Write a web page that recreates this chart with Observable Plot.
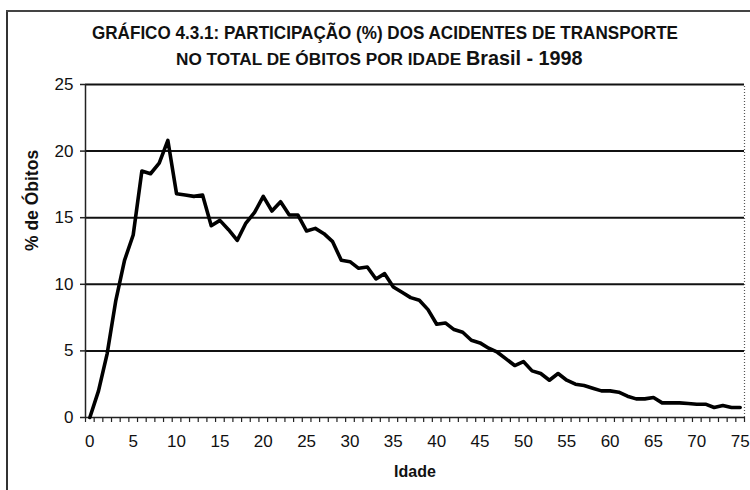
<!DOCTYPE html>
<html>
<head>
<meta charset="utf-8">
<script src="https://cdn.jsdelivr.net/npm/d3@7"></script>
<script src="https://cdn.jsdelivr.net/npm/@observablehq/plot@0.6"></script>
<style>
  html, body { margin: 0; padding: 0; background: #fff; }
  #wrap { position: relative; width: 750px; height: 490px; overflow: hidden; }
  #frameL { position: absolute; left: 6px; top: 10px; width: 1.5px; height: 480px; background: #333; }
  #frameT { position: absolute; left: 6px; top: 10px; width: 744px; height: 1.5px; background: #444; }
  #title { position: absolute; left: 0; top: 0; width: 750px; height: 70px; }
  #chart { position: absolute; left: 0; top: 70px; }
</style>
</head>
<body>
<div id="wrap">
  <div id="frameL"></div>
  <div id="frameT"></div>
  <svg id="title" width="750" height="70" font-family="'Liberation Sans', Arial, sans-serif">
    <text x="92" y="39" font-size="18.5" font-weight="bold" fill="#111" textLength="586" lengthAdjust="spacingAndGlyphs">GRÁFICO 4.3.1: PARTICIPAÇÃO (%) DOS ACIDENTES DE TRANSPORTE</text>
    <text x="176" y="65" font-weight="bold" fill="#111"><tspan font-size="17.2">NO TOTAL DE ÓBITOS POR IDADE </tspan><tspan font-size="19.8">Brasil - 1998</tspan></text>
  </svg>
  <div id="chart"></div>
</div>
<script>
// Idade (anos)
const ages = [0,1,2,3,4,5,6,7,8,9,10,11,12,13,14,15,16,17,18,19,20,21,22,23,24,25,26,27,28,29,30,31,32,33,34,35,36,37,38,39,40,41,42,43,44,45,46,47,48,49,50,51,52,53,54,55,56,57,58,59,60,61,62,63,64,65,66,67,68,69,70,71,72,73,74,75];
// % de óbitos por acidentes de transporte
const pct = [0,2.0,4.8,8.8,11.8,13.7,18.5,18.3,19.1,20.8,
             16.8,16.7,16.6,16.7,14.4,14.8,14.1,13.3,14.6,15.4,
             16.6,15.5,16.2,15.2,15.2,14.0,14.2,13.8,13.2,11.8,
             11.7,11.2,11.3,10.4,10.8,9.8,9.4,9.0,8.8,8.1,
             7.0,7.1,6.6,6.4,5.8,5.6,5.2,4.9,4.4,3.9,
             4.2,3.5,3.3,2.8,3.3,2.8,2.5,2.4,2.2,2.0,
             2.0,1.9,1.6,1.4,1.4,1.5,1.1,1.1,1.1,1.05,
             1.0,1.0,0.75,0.9,0.75,0.75];
const yTicks = [0,5,10,15,20,25];
const xTickLabels = [0,5,10,15,20,25,30,35,40,45,50,55,60,65,70,75];
const gridLines = [5,10,15,20,25];
const xLabel = "Idade";
const yLabel = "% de Óbitos";

const data = ages.map((a, i) => ({age: a, pct: pct[i]}));
const boundaries = ages.map(a => a - 0.5).concat([ages[ages.length - 1] + 0.5]);
const xDomain = [ages[0] - 0.5, ages[ages.length - 1] + 0.5];

const chart = Plot.plot({
  width: 750,
  height: 420,
  marginLeft: 85,
  marginRight: 6,
  marginTop: 14,
  marginBottom: 73,
  style: {fontFamily: "'Liberation Sans', Arial, sans-serif", fontSize: "17px", color: "#111", background: "transparent"},
  x: {domain: xDomain},
  y: {domain: [0, 25]},
  marks: [
    Plot.ruleY(gridLines, {stroke: "#111", strokeWidth: 2}),
    Plot.ruleX([xDomain[1]], {y1: 0, y2: 25, stroke: "#555", strokeWidth: 1.2, strokeDasharray: "1,2"}),
    Plot.ruleX([xDomain[0]], {y1: 0, y2: 25, stroke: "#222", strokeWidth: 1.5}),
    Plot.ruleY([0], {stroke: "#222", strokeWidth: 1.5}),
    Plot.axisY({ticks: yTicks, tickSize: 5, tickPadding: 7, label: null, stroke: "#222", strokeWidth: 1.5, fill: "#111", fontSize: 17}),
    Plot.axisX({ticks: boundaries, tickSize: 5, tickFormat: () => "", label: null, stroke: "#222", strokeWidth: 1.2}),
    Plot.axisX({ticks: xTickLabels, tickSize: 0, tickPadding: 17, label: null, fill: "#111", fontSize: 17}),
    Plot.line(data, {x: "age", y: "pct", stroke: "#000", strokeWidth: 3.6, strokeLinejoin: "round", strokeLinecap: "round"}),
    Plot.text([xLabel], {frameAnchor: "bottom", dy: 59, fontWeight: "bold", fontSize: 16, fill: "#111"}),
    Plot.text([yLabel], {frameAnchor: "left", rotate: -90, dx: -53, fontWeight: "bold", fontSize: 17.5, fill: "#111"})
  ]
});
document.getElementById("chart").appendChild(chart);
</script>
</body>
</html>
